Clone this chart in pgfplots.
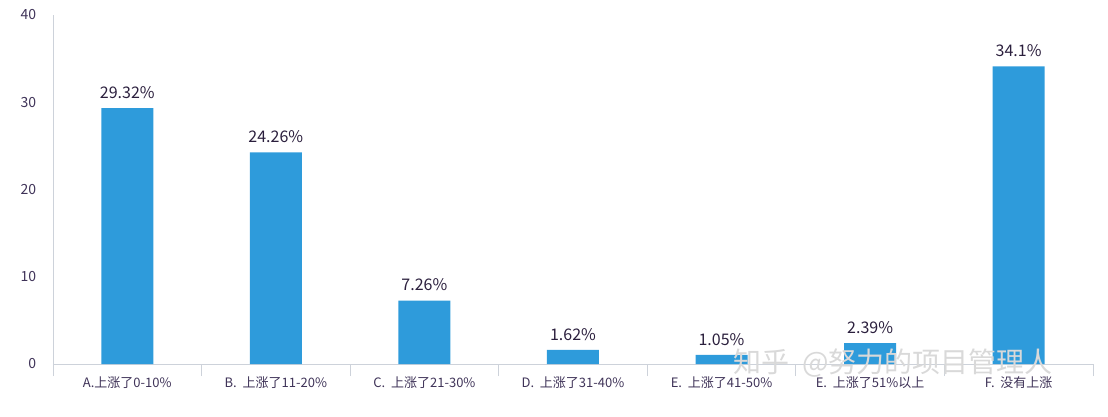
\documentclass[border=0pt]{standalone}
\usepackage{fontspec}
\setmainfont{Noto Sans CJK SC}
\usepackage{pgfplots}
\pgfplotsset{compat=1.18}
\definecolor{barblue}{HTML}{2E9BDB}
\definecolor{labcol}{HTML}{2B1F3D}
\definecolor{tickcol}{HTML}{3F3358}
\definecolor{axcol}{HTML}{CDD2DA}
\begin{document}
\begin{tikzpicture}
\useasboundingbox (-53pt,-52pt) rectangle (1055pt,364pt);
\begin{axis}[
  at={(0pt,0pt)}, anchor=south west,
  scale only axis, width=1040pt, height=349pt,
  xmin=-0.5, xmax=6.5, ymin=0, ymax=40,
  axis x line=bottom, axis y line=left,
  axis line style={-, draw=axcol, line width=0.8pt},
  ytick={0,10,20,30,40},
  yticklabel style={font=\fontsize{14}{16}\selectfont, text=tickcol, xshift=-9pt},
  ytick style={draw=none},
  /pgf/number format/assume math mode=true,
  xtick={0,...,6},
  xticklabels={A.上涨了0-10\%, B.\ \ 上涨了11-20\%, C.\ \ 上涨了21-30\%, D.\ \ 上涨了31-40\%, E.\ \ 上涨了41-50\%, E.\ \ 上涨了51\%以上, F.\ \ 没有上涨},
  xticklabel style={font=\fontsize{13}{15}\selectfont, text=tickcol, yshift=-5pt},
  xtick style={draw=none},
  minor xtick={-0.5,0.5,...,6.5},
  minor tick length=12pt,
  tick align=outside,
  minor x tick style={draw=axcol, line width=0.8pt},
  clip=false,
]
\addplot[ybar, bar width=0.35, fill=barblue, draw=none,
  point meta=explicit symbolic,
  nodes near coords,
  nodes near coords style={font=\fontsize{16}{18}\selectfont, text=labcol, yshift=6pt}]
  coordinates {
  (0,29.32) [29.32\%]
  (1,24.26) [24.26\%]
  (2,7.26) [7.26\%]
  (3,1.62) [1.62\%]
  (4,1.05) [1.05\%]
  (5,2.39) [2.39\%]
  (6,34.1) [34.1\%]
  };
\end{axis}
\node[text=gray!30, font=\fontsize{28}{30}\selectfont, anchor=center] at (840pt,1pt) {知乎\ \ @努力的项目管理人};
\end{tikzpicture}
\end{document}
